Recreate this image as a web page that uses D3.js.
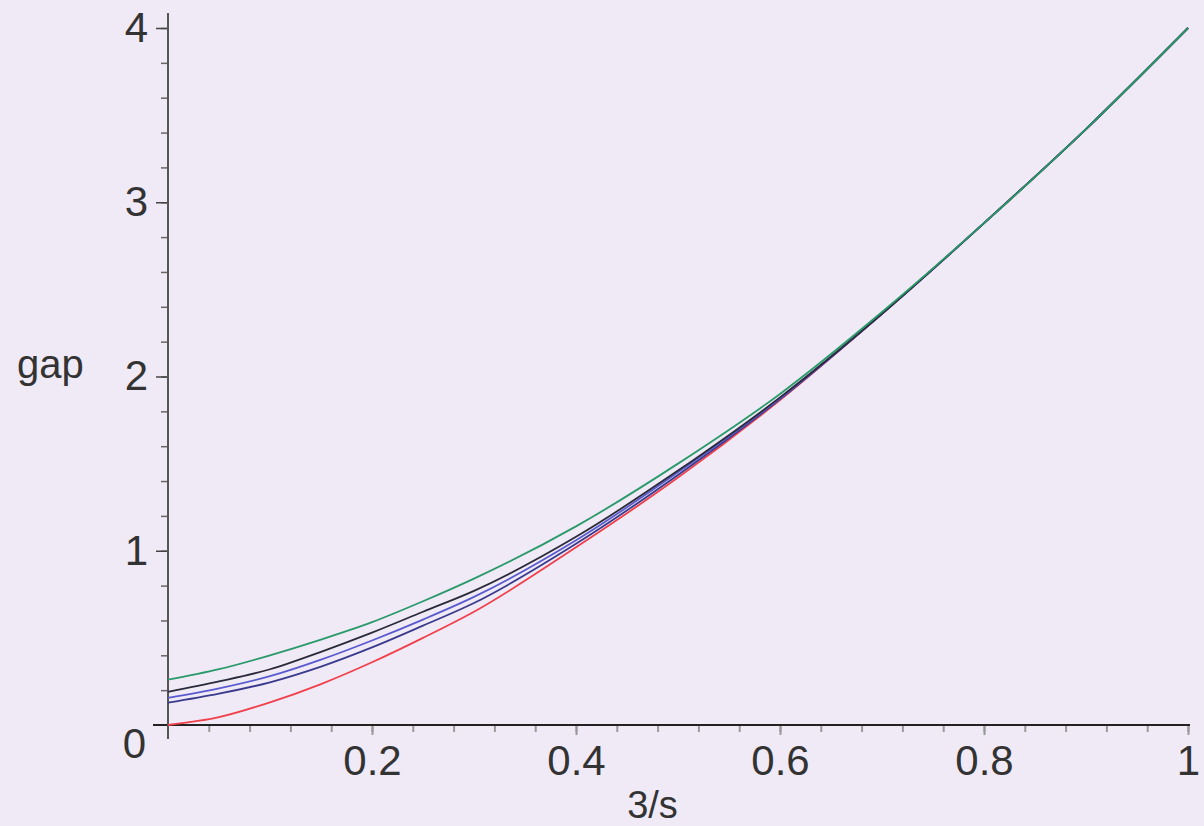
<!DOCTYPE html>
<html>
<head>
<meta charset="utf-8">
<script src="https://cdn.jsdelivr.net/npm/d3@7"></script>
<style>
  html, body { margin: 0; padding: 0; background: #f0eaf7; }
  svg { display: block; }
  text { font-family: "Liberation Sans", Arial, sans-serif; fill: #333; }
</style>
</head>
<body>
<div id="chart"></div>
<script>

// DATA -- 3/s VALUES AND GAP FOR EACH CURVE
var xValues   = [0, 0.05, 0.1, 0.15, 0.2, 0.25, 0.3, 0.4, 0.5, 0.6, 0.7, 0.8, 0.9, 1.0];
var gapRed    = [0, 0.045, 0.13, 0.235, 0.36, 0.50, 0.65, 1.02, 1.42, 1.865, 2.36, 2.88, 3.42, 4.0];
var gapNavy   = [0.128, 0.18, 0.245, 0.335, 0.445, 0.57, 0.70, 1.04, 1.435, 1.87, 2.36, 2.88, 3.42, 4.0];
var gapBlue   = [0.155, 0.21, 0.28, 0.375, 0.485, 0.605, 0.735, 1.06, 1.45, 1.875, 2.36, 2.88, 3.42, 4.0];
var gapBlack  = [0.19, 0.25, 0.32, 0.42, 0.53, 0.65, 0.77, 1.08, 1.46, 1.88, 2.36, 2.88, 3.42, 4.0];
var gapGreen  = [0.26, 0.32, 0.40, 0.49, 0.59, 0.71, 0.84, 1.14, 1.50, 1.90, 2.37, 2.88, 3.42, 4.0];

// TICKS
var xMajorTicks = [0.2, 0.4, 0.6, 0.8, 1];
var xMinorTicks = d3.range(1, 26).map(i => +(i * 0.04).toFixed(2));
var yMajorTicks = [1, 2, 3, 4];
var yMinorTicks = d3.range(1, 21).map(i => +(i * 0.2).toFixed(1));

// SETTINGS
var settings = {
   width: 1204,
   height: 826,
   colors: { red: '#f0404a', navy: '#3a3a8c', blue: '#5a5ad0', black: '#2a2a3a', green: '#2a9a6a' }
};

// SERIES LIST -- DRAW ORDER, GREEN ON TOP
var series = [
   { name: 'red', values: gapRed },
   { name: 'navy', values: gapNavy },
   { name: 'blue', values: gapBlue },
   { name: 'black', values: gapBlack },
   { name: 'green', values: gapGreen }
];

// SCALES
var xScale = d3.scaleLinear().domain([0, 1]).range([168, 1188]);
var yScale = d3.scaleLinear().domain([0, 4]).range([725, 28]);

// CANVAS
var canvas = d3.select('#chart').append('svg')
   .attr('width', settings.width)
   .attr('height', settings.height)

canvas.append('rect')
   .attr('width', settings.width)
   .attr('height', settings.height)
   .attr('fill', '#f0eaf7')

// X MINOR TICKS
canvas.append('g')
   .attr('transform', 'translate(0,' + yScale(0) + ')')
   .call(d3.axisBottom(xScale).tickValues(xMinorTicks).tickSize(7).tickFormat(''))
   .call(g => g.select('.domain').remove())
   .call(g => g.selectAll('line').attr('stroke', '#999').attr('stroke-width', 2))

// X MAJOR TICKS + LABELS
canvas.append('g')
   .attr('transform', 'translate(0,' + yScale(0) + ')')
   .call(d3.axisBottom(xScale).tickValues(xMajorTicks).tickSize(10).tickPadding(10).tickFormat(d3.format('')))
   .call(g => g.select('.domain').remove())
   .call(g => g.selectAll('line').attr('stroke', '#999').attr('stroke-width', 2))
   .call(g => g.selectAll('text').attr('font-size', 42).attr('fill', '#333')
      .style('font-family', '"Liberation Sans", Arial, sans-serif'))

// Y MINOR TICKS
canvas.append('g')
   .attr('transform', 'translate(' + xScale(0) + ',0)')
   .call(d3.axisLeft(yScale).tickValues(yMinorTicks).tickSize(7).tickFormat(''))
   .call(g => g.select('.domain').remove())
   .call(g => g.selectAll('line').attr('stroke', '#666').attr('stroke-width', 1.5))

// Y MAJOR TICKS + LABELS
canvas.append('g')
   .attr('transform', 'translate(' + xScale(0) + ',0)')
   .call(d3.axisLeft(yScale).tickValues(yMajorTicks).tickSize(12).tickPadding(8).tickFormat(d3.format('')))
   .call(g => g.select('.domain').remove())
   .call(g => g.selectAll('line').attr('stroke', '#444').attr('stroke-width', 1.5))
   .call(g => g.selectAll('text').attr('font-size', 42).attr('fill', '#333')
      .style('font-family', '"Liberation Sans", Arial, sans-serif'))

// ORIGIN LABEL
canvas.append('text')
   .attr('x', xScale(0) - 22)
   .attr('y', yScale(0) + 33)
   .attr('text-anchor', 'end')
   .attr('font-size', 42)
   .text('0')

// AXIS LINES
canvas.append('line')
   .attr('x1', xScale(0) - 15).attr('x2', xScale(1) + 2)
   .attr('y1', yScale(0)).attr('y2', yScale(0))
   .attr('stroke', '#222').attr('stroke-width', 2)

canvas.append('line')
   .attr('x1', xScale(0)).attr('x2', xScale(0))
   .attr('y1', yScale(0) + 14).attr('y2', yScale(4) - 15)
   .attr('stroke', '#555').attr('stroke-width', 2)

// AXIS TITLES
canvas.append('text')
   .attr('x', xScale(0.475))
   .attr('y', 818)
   .attr('text-anchor', 'middle')
   .attr('font-size', 38)
   .text('3/s')

canvas.append('text')
   .attr('x', 17)
   .attr('y', yScale(2) + 1)
   .attr('font-size', 40)
   .text('gap')

// LINE GENERATOR
var pathify = d3.line()
   .x((d, i) => { return xScale(xValues[i]) })
   .y((d) => { return yScale(d) })
   .curve(d3.curveMonotoneX)

// ADD CURVES
series.forEach(s => {
   canvas.append('path')
      .attr('d', pathify(s.values))
      .attr('fill', 'none')
      .attr('stroke', settings.colors[s.name])
      .attr('stroke-width', 1.8)
});

</script>
</body>
</html>
